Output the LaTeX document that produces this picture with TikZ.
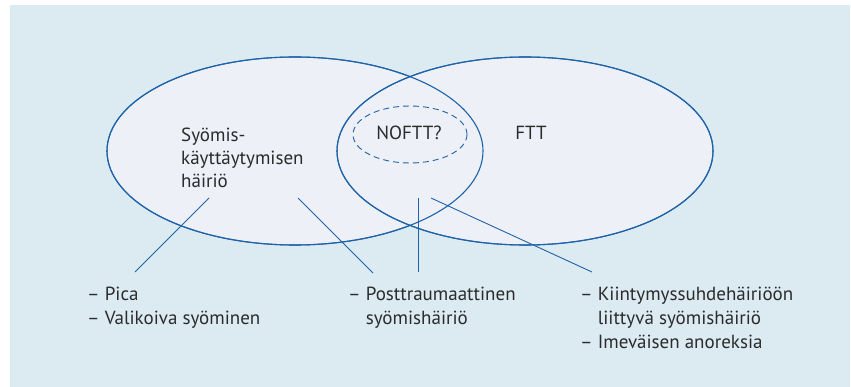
\documentclass[tikz,border=0pt]{standalone}
\usepackage{fontspec}
\setmainfont{PT Sans}
\usetikzlibrary{shapes.geometric}
\definecolor{bgblue}{HTML}{DCEAF2}
\definecolor{ellfill}{HTML}{EEF0F8}
\definecolor{lineblue}{HTML}{1E63A8}
\definecolor{txt}{HTML}{2B2B2B}
\begin{document}
\begin{tikzpicture}[x=1pt,y=-1pt,
  venn/.style={ellipse,draw=lineblue,line width=1.1pt,minimum width=376pt,minimum height=188pt,inner sep=0pt},
  conn/.style={draw=lineblue,line width=0.9pt},
  lbl/.style={text=txt,font=\fontsize{19}{24}\selectfont,inner sep=0pt,align=left}]
\useasboundingbox (0,0) rectangle (851,387);
\fill[white] (0,0) rectangle (851,387);
\fill[bgblue] (10,5) rectangle (850,387);
% filled ellipses
\node[venn,fill=ellfill] (L) at (295,151) {};
\node[venn,fill=ellfill] (R) at (525,151) {};
% redraw outlines on top
\node[venn] (L2) at (295,151) {};
\node[venn] (R2) at (525,151) {};
\node[ellipse,draw=lineblue,dash pattern=on 6pt off 4pt,line width=0.9pt,minimum width=114pt,minimum height=57pt,inner sep=0pt] (D) at (410,134.5) {};
% labels
\node[lbl,font=\fontsize{19}{23}\selectfont,anchor=base west] (sy) at (181,188) {Syömis-\\käyttäytymisen\\häiriö};
\node[lbl,anchor=base] (noftt) at (409,140) {NOFTT?};
\node[lbl,anchor=base] (ftt) at (531,140) {FTT};
% label lists
\node[lbl,anchor=base west] (l1) at (87,324) {– Pica\\– Valikoiva syöminen};
\node[lbl,anchor=base west] (l2) at (348,324) {– Posttraumaattinen\\\phantom{– }syömishäiriö};
\node[lbl,anchor=base west] (l3) at (580,348) {– Kiintymyssuhdehäiriöön\\\phantom{– }liittyvä syömishäiriö\\– Imeväisen anoreksia};
% connector endpoints
\coordinate (a1) at (209,198); \coordinate (b1) at (135,272);
\coordinate (a2) at (298,198); \coordinate (b2) at (373,273);
\coordinate (a3) at (418,198); \coordinate (b3) at (418,272);
\coordinate (a4) at (431,198); \coordinate (b4) at (592,272);
\draw[conn] (a1) -- (b1);
\draw[conn] (a2) -- (b2);
\draw[conn] (a3) -- (b3);
\draw[conn] (a4) -- (b4);
\end{tikzpicture}
\end{document}
